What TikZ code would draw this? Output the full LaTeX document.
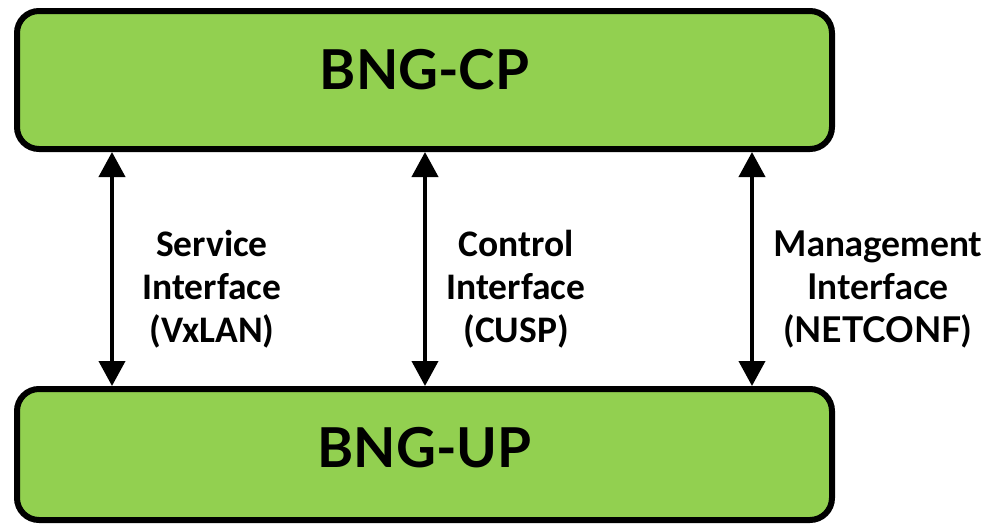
\documentclass[tikz,border=0pt]{standalone}
\usepackage{fontspec}
\setmainfont{Carlito}
\newfontfamily\latofont{Lato}
\usetikzlibrary{arrows.meta}
\definecolor{bnggreen}{RGB}{146,208,80}
\tikzset{
  plane/.style={draw,line width=6pt,fill=bnggreen,rounded corners=22pt,minimum width=815pt,
    font=\latofont\bfseries\fontsize{55}{60}\selectfont},
  biarrow/.style={line width=4pt,{Triangle[width=26pt,length=25pt]}-{Triangle[width=26pt,length=25pt]}},
  iflabel/.style={align=center,font=\fontsize{37.5}{43}\selectfont\bfseries}
}
\begin{document}
\begin{tikzpicture}[x=1pt,y=-1pt]
\useasboundingbox (0,0) rectangle (986,525);
\node[plane,minimum height=138pt,text depth=22pt] (cp) at (424.5,80) {BNG-CP};
\node[plane,minimum height=131pt,text depth=14pt] (up) at (424.5,454.5) {BNG-UP};
\coordinate (s) at (112,0);
\coordinate (c) at (425,0);
\coordinate (m) at (752,0);
\draw[biarrow] (cp.south -| s) -- (up.north -| s);
\draw[biarrow] (cp.south -| c) -- (up.north -| c);
\draw[biarrow] (cp.south -| m) -- (up.north -| m);

\node[iflabel] (sl) at (212,289) {Service\\Interface\\(VxLAN)};
\node[iflabel] (cl) at (516,289) {Control\\Interface\\(CUSP)};
\node[iflabel,font=\latofont\fontsize{35.5}{43}\selectfont\bfseries] (ml) at (878,289) {Management\\Interface\\(NETCONF)};
\end{tikzpicture}
\end{document}
